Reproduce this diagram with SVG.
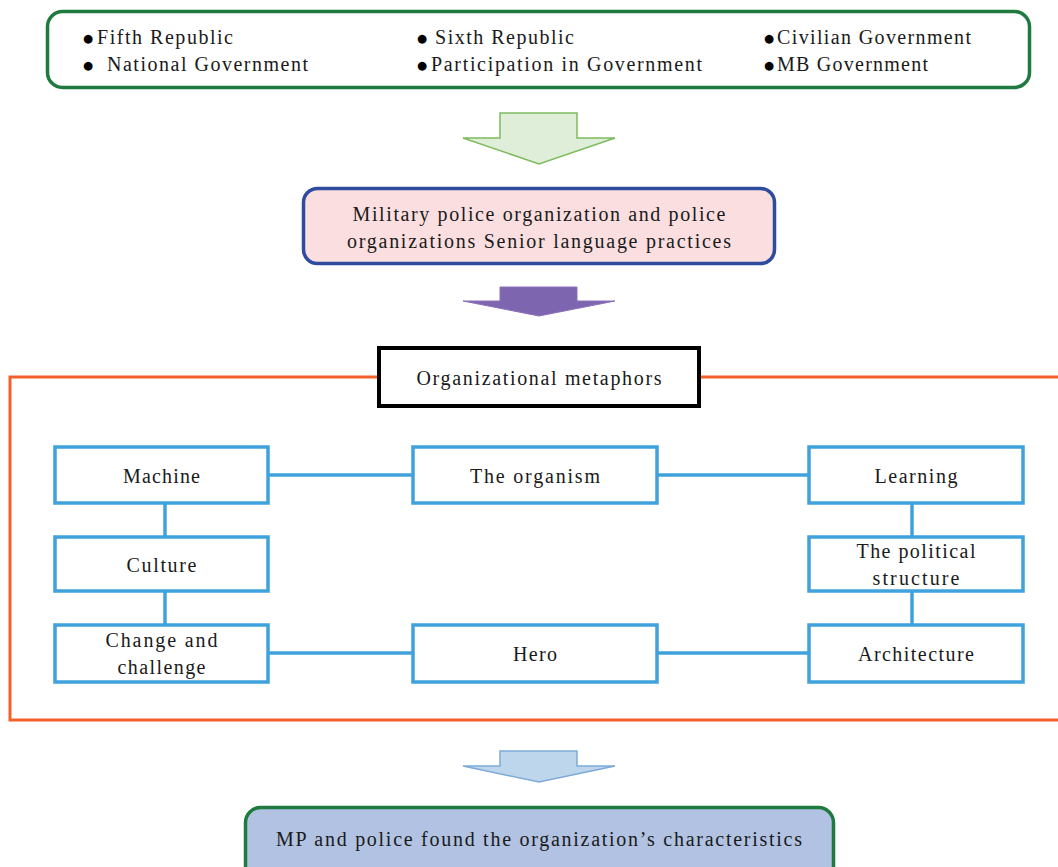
<svg xmlns="http://www.w3.org/2000/svg" width="1058" height="867" viewBox="0 0 1058 867">
<style>
text{font-family:"Liberation Serif","Times New Roman",serif;font-size:20px;fill:#1a1a1a}
.c{text-anchor:middle}
.b{font-family:"DejaVu Sans",sans-serif;font-size:11.5px;text-anchor:middle;fill:#000}
.blue{fill:#fff;stroke:#3fa2dc;stroke-width:3.5}
.conn line{stroke:#3fa2dc;stroke-width:3.5}
</style>
<rect width="1058" height="867" fill="#fff"/>
<g id="governments">
<rect x="47.5" y="11.5" width="982" height="76" rx="15" fill="#fff" stroke="#1f7a3f" stroke-width="3.5"/>
<text class="b" x="88" y="41.5">●</text><text x="97" y="44" textLength="136" lengthAdjust="spacing">Fifth Republic</text>
<text class="b" x="88" y="68.5">●</text><text x="107" y="71" textLength="201" lengthAdjust="spacing">National Government</text>
<text class="b" x="422" y="41.5">●</text><text x="435" y="44" textLength="139" lengthAdjust="spacing">Sixth Republic</text>
<text class="b" x="422" y="68.5">●</text><text x="431" y="71" textLength="271" lengthAdjust="spacing">Participation in Government</text>
<text class="b" x="769" y="41.5">●</text><text x="777" y="44" textLength="194" lengthAdjust="spacing">Civilian Government</text>
<text class="b" x="769" y="68.5">●</text><text x="777" y="71" textLength="151" lengthAdjust="spacing">MB Government</text>
</g>
<g id="arrow1"><polygon points="500,113 577,113 577,138 615,138 539,164 463,138 500,138" fill="#dfeed9" stroke="#7dbb5d" stroke-width="1.5"/></g>
<g id="practices">
<rect x="303.5" y="188.5" width="471" height="75" rx="14" fill="#fbdfe0" stroke="#2e4b9e" stroke-width="3.5"/>
<text class="c" x="539" y="221" textLength="373" lengthAdjust="spacing">Military police organization and police</text>
<text class="c" x="539" y="248" textLength="384" lengthAdjust="spacing">organizations Senior language practices</text>
</g>
<g id="arrow2"><polygon points="500,287 577,287 577,301 615,301 539,316 463,301 500,301" fill="#7e65b0" stroke="#8a72b8" stroke-width="1"/></g>
<g id="frame"><path d="M379,377 H10 V720 H1058 M699,377 H1058" fill="none" stroke="#f3602a" stroke-width="3"/></g>
<g id="metaphors">
<rect x="379" y="348" width="320" height="58" fill="#fff" stroke="#000" stroke-width="4"/>
<text class="c" x="539" y="385" textLength="245" lengthAdjust="spacing">Organizational metaphors</text>
</g>
<g id="connectors" class="conn">
<line x1="268" y1="475" x2="413" y2="475"/>
<line x1="657" y1="475" x2="809" y2="475"/>
<line x1="165" y1="503" x2="165" y2="537"/>
<line x1="165" y1="591" x2="165" y2="625"/>
<line x1="268" y1="653" x2="413" y2="653"/>
<line x1="657" y1="653" x2="809" y2="653"/>
<line x1="912" y1="503" x2="912" y2="537"/>
<line x1="912" y1="591" x2="912" y2="625"/>
</g>
<g id="machine"><rect class="blue" x="55" y="447" width="213" height="56"/><text class="c" x="161.5" y="483" textLength="77" lengthAdjust="spacing">Machine</text></g>
<g id="organism"><rect class="blue" x="413" y="447" width="244" height="56"/><text class="c" x="535" y="483" textLength="130" lengthAdjust="spacing">The organism</text></g>
<g id="learning"><rect class="blue" x="809" y="447" width="214" height="56"/><text class="c" x="916" y="483" textLength="83" lengthAdjust="spacing">Learning</text></g>
<g id="culture"><rect class="blue" x="55" y="537" width="213" height="54"/><text class="c" x="161.5" y="572" textLength="70" lengthAdjust="spacing">Culture</text></g>
<g id="political"><rect class="blue" x="809" y="537" width="214" height="54"/><text class="c" x="916" y="558" textLength="119" lengthAdjust="spacing">The political</text><text class="c" x="916" y="585" textLength="87" lengthAdjust="spacing">structure</text></g>
<g id="change"><rect class="blue" x="55" y="625" width="213" height="57"/><text class="c" x="161.5" y="647" textLength="112" lengthAdjust="spacing">Change and</text><text class="c" x="161.5" y="674" textLength="88" lengthAdjust="spacing">challenge</text></g>
<g id="hero"><rect class="blue" x="413" y="625" width="244" height="57"/><text class="c" x="535" y="661" textLength="44" lengthAdjust="spacing">Hero</text></g>
<g id="architecture"><rect class="blue" x="809" y="625" width="214" height="57"/><text class="c" x="916" y="661" textLength="116" lengthAdjust="spacing">Architecture</text></g>
<g id="arrow3"><polygon points="500,751 577,751 577,766 615,766 539,782 463,766 500,766" fill="#bdd6ec" stroke="#7eaad8" stroke-width="1.5"/></g>
<g id="result">
<rect x="245.5" y="807.5" width="588" height="80" rx="15" fill="#b1c2e2" stroke="#1f7a3f" stroke-width="3.5"/>
<text class="c" x="539" y="846" textLength="526" lengthAdjust="spacing">MP and police found the organization’s characteristics</text>
</g>
</svg>
